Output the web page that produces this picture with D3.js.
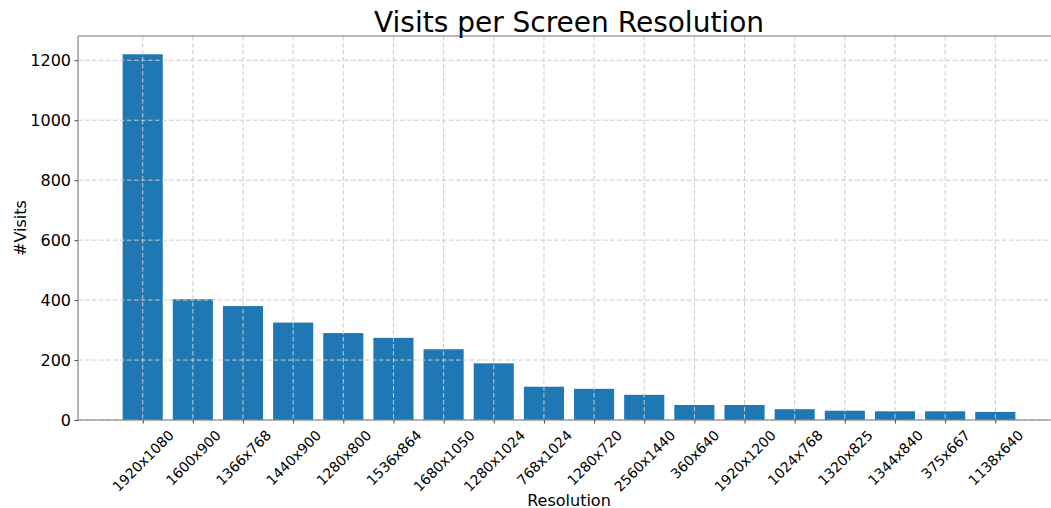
<!DOCTYPE html>
<head>
    <title>Visits per Screen Resolution</title>
    <meta charset="utf-8">
    <style>
        body {
            margin: 0;
            overflow: hidden;
            background: #fff;
        }

        #chart text {
            font-family: "DejaVu Sans", sans-serif;
            fill: #000;
        }
    </style>
</head>

<body>
    <div id="chart"></div>

    <script src="https://d3js.org/d3.v7.min.js"></script>
    <script>
        var resolutions = ["1920x1080", "1600x900", "1366x768", "1440x900", "1280x800", "1536x864",
            "1680x1050", "1280x1024", "768x1024", "1280x720", "2560x1440", "360x640",
            "1920x1200", "1024x768", "1320x825", "1344x840", "375x667", "1138x640"];
        var visits = [1220, 403, 380, 325, 290, 274, 236, 189, 111, 104, 84, 50, 50, 36, 31, 29, 29, 27];
        var yTicks = [0, 200, 400, 600, 800, 1000, 1200];

        var width = 1051, height = 508;
        // axes box, the right side runs past the window like in the picture
        // (don't call these top/left: window.top is read-only)
        var box = {left: 78, right: 1060, top: 36, bottom: 420};

        var svg = d3.select("#chart")
            .append("svg")
            .attr("width", width)
            .attr("height", height);

        var n = resolutions.length;
        var pad = (n - 1 + 0.8) * 0.05;
        var xScale = d3.scaleLinear()
            .domain([-0.4 - pad, n - 1 + 0.4 + pad])
            .range([box.left, box.right]);

        var yScale = d3.scaleLinear()
            .domain([0, d3.max(visits) * 1.05])
            .range([box.bottom, box.top]);

        var data = resolutions.map(function(r, i) { return { res: r, i: i, value: visits[i] }; });

        // bars
        svg.append("g")
            .selectAll("rect")
            .data(data)
            .enter()
            .append("rect")
            .attr("x", d => xScale(d.i - 0.4))
            .attr("width", d => xScale(d.i + 0.4) - xScale(d.i - 0.4))
            .attr("y", d => yScale(d.value))
            .attr("height", d => yScale(0) - yScale(d.value))
            .attr("fill", "#1f77b4");

        // grid (drawn over the bars)
        var grid = svg.append("g")
            .attr("stroke", "#cccccc")
            .attr("stroke-width", 1)
            .attr("stroke-dasharray", "4.5,2.5");

        grid.selectAll(".vgrid")
            .data(data)
            .enter()
            .append("line")
            .attr("class", "vgrid")
            .attr("x1", d => xScale(d.i))
            .attr("x2", d => xScale(d.i))
            .attr("y1", box.top)
            .attr("y2", box.bottom);

        grid.selectAll(".hgrid")
            .data(yTicks)
            .enter()
            .append("line")
            .attr("class", "hgrid")
            .attr("x1", box.left)
            .attr("x2", box.right)
            .attr("y1", d => yScale(d))
            .attr("y2", d => yScale(d));

        // y axis
        var yAxis = svg.append("g")
            .attr("transform", "translate(" + box.left + ",0)")
            .call(d3.axisLeft(yScale)
                .tickValues(yTicks)
                .tickFormat(d3.format("d"))
                .tickSize(3.5)
                .tickPadding(3.5)
                .tickSizeOuter(0));
        yAxis.select(".domain").remove();
        yAxis.selectAll("line").attr("stroke", "#444");
        yAxis.selectAll("text")
            .style("font-family", "DejaVu Sans")
            .style("font-size", "16px");

        // x axis, labels placed by hand so the rotated box is centred under the tick
        var xAxis = svg.append("g")
            .attr("transform", "translate(0," + box.bottom + ")")
            .call(d3.axisBottom(xScale)
                .tickValues(d3.range(n))
                .tickFormat(i => resolutions[i])
                .tickSize(3.5)
                .tickSizeOuter(0));
        xAxis.select(".domain").remove();
        xAxis.selectAll("line").attr("stroke", "#444");
        xAxis.selectAll("text")
            .style("font-family", "DejaVu Sans")
            .style("font-size", "14px")
            .attr("dy", null)
            .attr("y", 0)
            .attr("text-anchor", "middle")
            .attr("dominant-baseline", "central")
            .attr("transform", function() {
                var w = this.getComputedTextLength();
                var half = (w + 16) * Math.SQRT1_2 / 2;
                return "translate(0," + (7 + half) + ") rotate(-45)";
            });

        // spines
        var spines = svg.append("g")
            .attr("stroke", "#777")
            .attr("stroke-width", 1.1);
        spines.append("line").attr("x1", box.left).attr("x2", box.left).attr("y1", box.top).attr("y2", box.bottom);
        spines.append("line").attr("x1", box.left).attr("x2", box.right).attr("y1", box.top).attr("y2", box.top);
        spines.append("line").attr("x1", box.left).attr("x2", box.right).attr("y1", box.bottom).attr("y2", box.bottom);
        spines.append("line").attr("x1", box.right).attr("x2", box.right).attr("y1", box.top).attr("y2", box.bottom);

        // titles
        var mid = (box.left + box.right) / 2;
        svg.append("text")
            .attr("x", mid)
            .attr("y", 32)
            .attr("text-anchor", "middle")
            .style("font-size", "28px")
            .text("Visits per Screen Resolution");

        svg.append("text")
            .attr("x", mid)
            .attr("y", 506)
            .attr("text-anchor", "middle")
            .style("font-size", "16px")
            .text("Resolution");

        svg.append("text")
            .attr("transform", "translate(26," + (box.top + box.bottom) / 2 + ") rotate(-90)")
            .attr("text-anchor", "middle")
            .style("font-size", "16px")
            .text("#Visits");
    </script>
</body>
</html>
